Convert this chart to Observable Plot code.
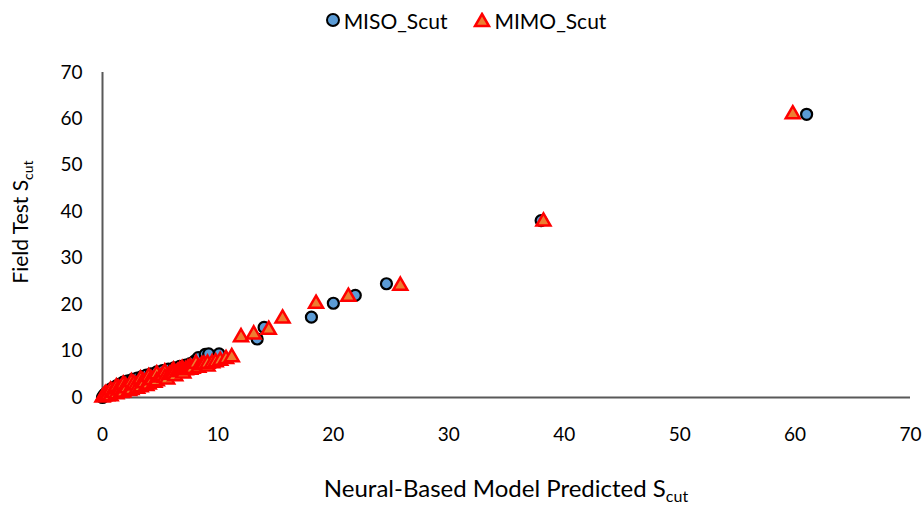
<!DOCTYPE html>
<html>
<head>
<meta charset="utf-8">
<script src="https://cdn.jsdelivr.net/npm/d3@7"></script>
<script src="https://cdn.jsdelivr.net/npm/@observablehq/plot@0.6"></script>
<style>
  body { margin: 0; background: #fff; font-family: Lato, "Open Sans", sans-serif; }
  #legend { height: 40px; display: flex; justify-content: center; align-items: center; font-size: 21px; color: #000; padding-left: 8px; }
  #legend .item { display: flex; align-items: center; margin: 0 13px; }
  #legend svg { margin-right: 3px; }
</style>
</head>
<body>
<div id="legend"></div>
<div id="chart"></div>
<script>
const seriesNames = ["MISO_Scut", "MIMO_Scut"];
const xTicks = [0, 10, 20, 30, 40, 50, 60, 70];
const yTicks = [0, 10, 20, 30, 40, 50, 60, 70];

const misoX = [0, 0.1, 0.2, 0.3, 0.5, 0.7, 0.9, 1.2, 1.5, 1.8, 2.2, 2.6, 3.0, 3.4, 3.8, 4.2, 4.7, 5.2, 5.7, 6.2, 6.7, 7.2, 7.6, 8.0, 8.3, 8.9, 9.2, 10.1, 13.4, 14.0, 18.1, 20.0, 21.9, 24.6, 38.0, 61.0];
const misoY = [0, 0.4, 0.7, 0.9, 1.3, 1.8, 2.1, 2.5, 2.9, 3.3, 3.6, 3.9, 4.2, 4.5, 4.8, 5.1, 5.5, 5.8, 6.1, 6.4, 6.7, 7.0, 7.3, 7.9, 8.6, 9.3, 9.4, 9.4, 12.6, 15.1, 17.3, 20.3, 22.0, 24.5, 38.1, 61.0];

const mimoX = [0, 0.1, 0.2, 0.3, 0.4, 0.5, 0.7, 0.7, 0.9, 1.0, 1.2, 1.2, 1.4, 1.5, 1.6, 1.8, 1.8, 2.0, 2.1, 2.3, 2.5, 2.5, 2.7, 2.9, 3.0, 3.3, 3.3, 3.5, 3.6, 3.8, 4.0, 4.0, 4.2, 4.3, 4.5, 4.7, 4.7, 5.0, 5.2, 5.4, 5.4, 5.6, 5.8, 6.0, 6.15, 6.15, 6.3, 6.5, 6.7, 6.9, 6.9, 7.0, 7.2, 7.4, 7.6, 7.6, 7.8, 8.1, 8.3, 8.6, 8.8, 9.1, 9.1, 9.5, 9.8, 10.2, 10.7, 11.2, 12.0, 13.1, 14.4, 15.6, 18.5, 21.3, 25.8, 38.2, 59.8];
const mimoY = [0, 0.2, 0.6, 0.8, 0.3, 0.6, 1.5, 0.3, 1.2, 1.0, 2.2, 0.7, 1.9, 1.5, 1.0, 2.8, 1.1, 2.4, 2.0, 1.4, 3.3, 1.6, 2.9, 2.6, 1.9, 3.9, 2.2, 3.5, 3.1, 2.5, 4.4, 2.8, 4.0, 3.7, 3.2, 5.0, 3.5, 4.3, 4.7, 5.4, 4.2, 3.9, 4.9, 5.3, 5.8, 5.0, 4.6, 5.5, 5.9, 6.2, 5.6, 5.2, 5.9, 6.3, 6.5, 6.0, 6.2, 7.3, 6.4, 7.0, 7.1, 6.7, 7.3, 7.4, 7.6, 7.9, 8.3, 8.7, 13.0, 13.6, 14.6, 17.0, 20.2, 21.7, 24.1, 37.9, 61.0];

const miso = misoX.map((x, i) => ({x, y: misoY[i]}));
const mimo = mimoX.map((x, i) => ({x, y: mimoY[i]}));

// Legend
const legend = d3.select("#legend");
const it1 = legend.append("div").attr("class", "item");
const s1 = it1.append("svg").attr("width", 16).attr("height", 16);
s1.append("circle").attr("cx", 8).attr("cy", 8).attr("r", 6).attr("fill", "#5B9BD5").attr("stroke", "#000").attr("stroke-width", 2);
it1.append("span").text(seriesNames[0]);
const it2 = legend.append("div").attr("class", "item");
const s2 = it2.append("svg").attr("width", 18).attr("height", 16);
s2.append("path").attr("d", "M9,2 L16,14 L2,14 Z").attr("fill", "#ED7D31").attr("stroke", "#FF0000").attr("stroke-width", 2.5).attr("stroke-linejoin", "miter");
it2.append("span").text(seriesNames[1]);

const plot = Plot.plot({
  width: 923,
  height: 465,
  marginTop: 32,
  marginBottom: 108,
  marginLeft: 102,
  marginRight: 13,
  style: { fontFamily: "Lato, 'Open Sans', sans-serif", fontSize: "19px", color: "#000", background: "#fff", overflow: "visible" },
  x: { domain: [0, 70] },
  y: { domain: [0, 70] },
  marks: [
    Plot.axisX({ ticks: xTicks, tickSize: 0, tickPadding: 30, label: null, fill: "#000" }),
    Plot.axisY({ ticks: yTicks, tickSize: 0, tickPadding: 20, label: null, fill: "#000" }),
    Plot.ruleY([0], { stroke: "#595959", strokeWidth: 2 }),
    Plot.ruleX([0], { stroke: "#595959", strokeWidth: 2 }),
    Plot.dot(miso, { x: "x", y: "y", r: 5.5, fill: "#5B9BD5", stroke: "#000", strokeWidth: 2.2, symbol: "circle" }),
    Plot.dot(mimo, { x: "x", y: "y", r: 5.2, fill: "#ED7D31", stroke: "#FF0000", strokeWidth: 2.5, symbol: "triangle" })
  ]
});
document.getElementById("chart").appendChild(plot);

// Axis titles with subscripts
const svg = d3.select(plot);
const xt = svg.append("text")
  .attr("x", 506).attr("y", 457)
  .attr("text-anchor", "middle")
  .attr("font-size", 24).attr("fill", "#000");
xt.append("tspan").text("Neural-Based Model Predicted S");
xt.append("tspan").attr("font-size", 16).attr("dy", 5).text("cut");

const yt = svg.append("text")
  .attr("transform", "translate(28,182) rotate(-90)")
  .attr("text-anchor", "middle")
  .attr("font-size", 21).attr("fill", "#000");
yt.append("tspan").text("Field Test S");
yt.append("tspan").attr("font-size", 14).attr("dy", 5).text("cut");
</script>
</body>
</html>
